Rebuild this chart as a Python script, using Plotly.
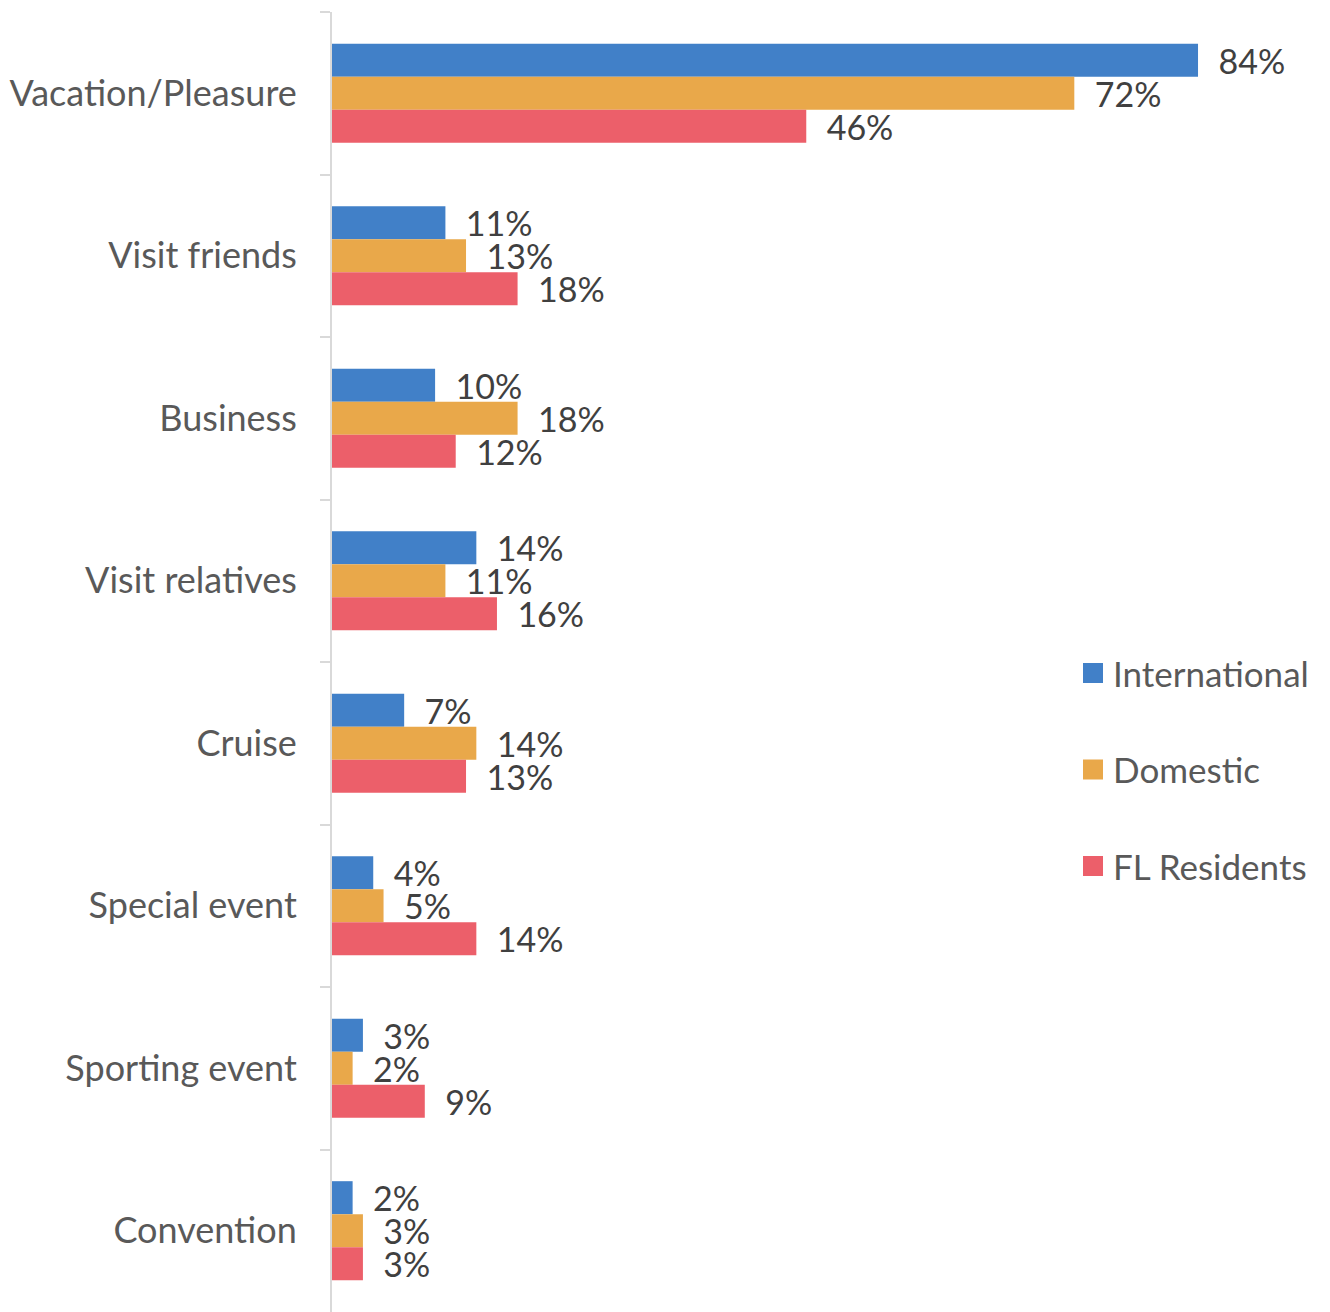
import plotly.graph_objects as go

categories = ["Vacation/Pleasure", "Visit friends", "Business", "Visit relatives",
              "Cruise", "Special event", "Sporting event", "Convention"]
international = [84, 11, 10, 14, 7, 4, 3, 2]
domestic = [72, 13, 18, 11, 14, 5, 2, 3]
fl_residents = [46, 18, 12, 16, 13, 14, 9, 3]

series = [
    ("International", international, "#4180C8"),
    ("Domestic", domestic, "#E9A84A"),
    ("FL Residents", fl_residents, "#EC5F6A"),
]

FONT = "Lato"
W, H = 1322, 1304
fig = go.Figure()
for name, vals, color in series:
    fig.add_trace(go.Bar(
        y=categories, x=vals, name=name, orientation="h",
        marker=dict(color=color, line=dict(width=0)),
        text=[f"\u00a0\u00a0{v}%" for v in vals],
        textposition="outside", constraintext="none", cliponaxis=False,
        textfont=dict(family=FONT, size=34, color="#404040"),
        showlegend=False, hoverinfo="skip",
    ))
for i, (name, vals, color) in enumerate(series):
    fig.add_trace(go.Scatter(
        x=[None], y=[categories[0]], mode="markers", name=name,
        legendgroup=f"g{i}",
        marker=dict(symbol="square", size=16, color=color,
                    line=dict(color=color, width=4)),
    ))

fig.update_layout(
    width=W, height=H,
    margin=dict(l=324, r=0, t=4, b=0, autoexpand=False),
    plot_bgcolor="white", paper_bgcolor="white",
    barmode="group", bargap=0.39, bargroupgap=0,
    font=dict(family=FONT, color="#595959"),
    xaxis=dict(range=[0, 96.8], visible=False, fixedrange=True),
    yaxis=dict(
        autorange="reversed", type="category", tickson="boundaries",
        ticks="outside", ticklen=10, tickwidth=2, tickcolor="#D9D9D9",
        showline=True, linecolor="#D9D9D9", linewidth=2,
        showgrid=False, ticklabelstandoff=26,
        tickfont=dict(family=FONT, size=36, color="#595959"),
    ),
    legend=dict(
        x=0.7425, y=0.514, xref="paper", yref="paper",
        xanchor="left", yanchor="top",
        font=dict(family=FONT, size=35, color="#595959"),
        tracegroupgap=48, itemsizing="trace",
        bgcolor="rgba(0,0,0,0)",
    ),
)

fig.write_html("out.html")
